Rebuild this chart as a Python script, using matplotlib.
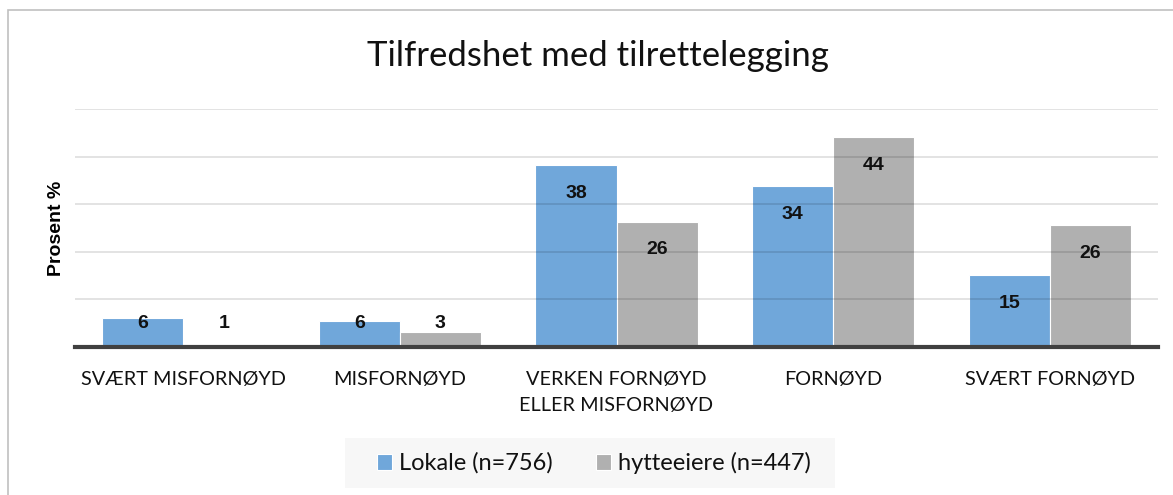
import matplotlib.pyplot as plt
from matplotlib.patches import Rectangle
import numpy as np

# ---------- data ----------
categories = ["SVÆRT MISFORNØYD", "MISFORNØYD", "VERKEN FORNØYD\nELLER MISFORNØYD",
              "FORNØYD", "SVÆRT FORNØYD"]
lokale = [6.1, 5.5, 38.2, 33.8, 15.1]
hytte = [0.6, 3.2, 26.3, 44.1, 25.6]
lokale_labels = ["6", "6", "38", "34", "15"]
hytte_labels = ["1", "3", "26", "44", "26"]
series_names = ["Lokale (n=756)", "hytteeiere (n=447)"]

BLUE = "#70A7DA"
GREY = "#B0B0B0"
BOLD_FAMILY = ["Liberation Sans", "DejaVu Sans"]

plt.rcParams["font.family"] = ["Lato", "DejaVu Sans"]

fig = plt.figure(figsize=(11.73, 4.95), dpi=100)
ax = fig.add_axes([75 / 1173, 1 - 347 / 495, (1158 - 75) / 1173, (347 - 109) / 495])

x = np.arange(len(categories))
w = 0.374
b1 = ax.bar(x - w / 2, lokale, w, color=BLUE, edgecolor="white", linewidth=0.8, zorder=2)
b2 = ax.bar(x + w / 2, hytte, w, color=GREY, edgecolor="white", linewidth=0.8, zorder=2)

# value labels (inside end, pushed up for small bars)
for xs, vals, labs in ((x - w / 2, lokale, lokale_labels), (x + w / 2, hytte, hytte_labels)):
    for xi, v, lab in zip(xs, vals, labs):
        ax.text(xi, max(v - 5.9, 5.0), lab, ha="center", va="center",
                fontsize=14, fontweight="bold", family=BOLD_FAMILY,
                color="#111111", zorder=4)

ax.set_xlim(-0.5, len(categories) - 0.5)
ax.set_ylim(0, 50)
ax.set_yticks([10, 20, 30, 40, 50])
ax.set_axisbelow(False)
ax.yaxis.grid(True, color="black", alpha=0.13, linewidth=1.2)
ax.tick_params(axis="y", left=False, labelleft=False)
ax.tick_params(axis="x", bottom=False, pad=14)
ax.set_xticks(x)
ax.set_xticklabels(categories, fontsize=14.3, color="#111111", linespacing=1.6, va="top")
for s in ax.spines.values():
    s.set_visible(False)
ax.axhline(0, color="#404040", linewidth=3, zorder=5, clip_on=False)

ax.set_ylabel("Prosent %", fontsize=14, fontweight="bold", family=BOLD_FAMILY, labelpad=7)

fig.text(598 / 1173, 1 - 56 / 495, "Tilfredshet med tilrettelegging",
         ha="center", va="center", fontsize=25, color="#111111")

# legend
fig.patches.append(Rectangle((345 / 1173, 1 - 488 / 495), 490 / 1173, 50 / 495,
                             transform=fig.transFigure, facecolor="#F7F7F7",
                             edgecolor="none", zorder=0))
leg = fig.legend([b1, b2], series_names, loc="center", bbox_to_anchor=(594 / 1173, 1 - 463 / 495),
                 ncol=2, frameon=False, fontsize=17, handlelength=0.65, handleheight=0.65,
                 handletextpad=0.3, columnspacing=1.8)
for t in leg.get_texts():
    t.set_color("#111111")

# chart area border
fig.patches.append(Rectangle((8 / 1173, -0.05), 1.1, 1 - 10 / 495 + 0.05,
                             transform=fig.transFigure, facecolor="none",
                             edgecolor="#C0C0C0", linewidth=1.2, zorder=0))

fig.savefig("out.png", dpi=100)
